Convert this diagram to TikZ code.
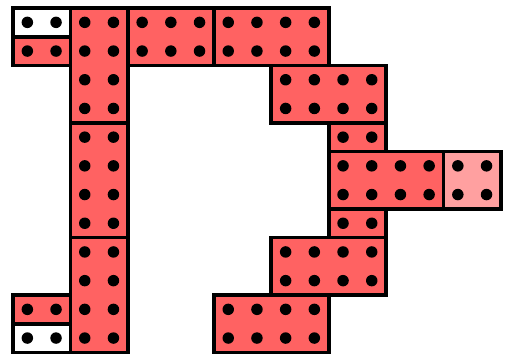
\documentclass[tikz,border=0pt]{standalone}
\usepackage{tikz}
\usepackage{xcolor}

\definecolor{brickred}{HTML}{FF6262}
\definecolor{brickpink}{HTML}{FFA0A0}

\tikzset{brick/.style={draw, rectangle, line width=0.13cm, inner sep=0pt}}

% brick: name, x, y, studs wide, studs high, fill
\newcommand{\brick}[6]{%
  \node (#1) at (#2+#4/2, #3+#5/2) [brick, fill=#6, minimum width=#4 cm, minimum height=#5 cm] {};
  \foreach \i in {1,...,#4} \foreach \j in {1,...,#5} \fill (#2+\i-0.5, #3+\j-0.5) circle (0.2);
}

\begin{document}
\begin{tikzpicture}
        \useasboundingbox (-0.453, -0.115) rectangle (17.178, 12.279);

        \brick{topwhite}{0}{11}{2}{1}{white}
        \brick{topred}{0}{10}{2}{1}{brickred}
        \brick{colA}{2}{8}{2}{4}{brickred}
        \brick{colB}{2}{4}{2}{4}{brickred}
        \brick{colC}{2}{0}{2}{4}{brickred}
        \brick{beamA}{4}{10}{3}{2}{brickred}
        \brick{beamB}{7}{10}{4}{2}{brickred}
        \brick{stepA}{9}{8}{4}{2}{brickred}
        \brick{stepB}{11}{7}{2}{1}{brickred}
        \brick{arm}{11}{5}{4}{2}{brickred}
        \brick{tip}{15}{5}{2}{2}{brickpink}
        \brick{stepC}{11}{4}{2}{1}{brickred}
        \brick{stepD}{9}{2}{4}{2}{brickred}
        \brick{beamC}{7}{0}{4}{2}{brickred}
        \brick{lowred}{0}{1}{2}{1}{brickred}
        \brick{lowwhite}{0}{0}{2}{1}{white}
    \end{tikzpicture}
\end{document}
